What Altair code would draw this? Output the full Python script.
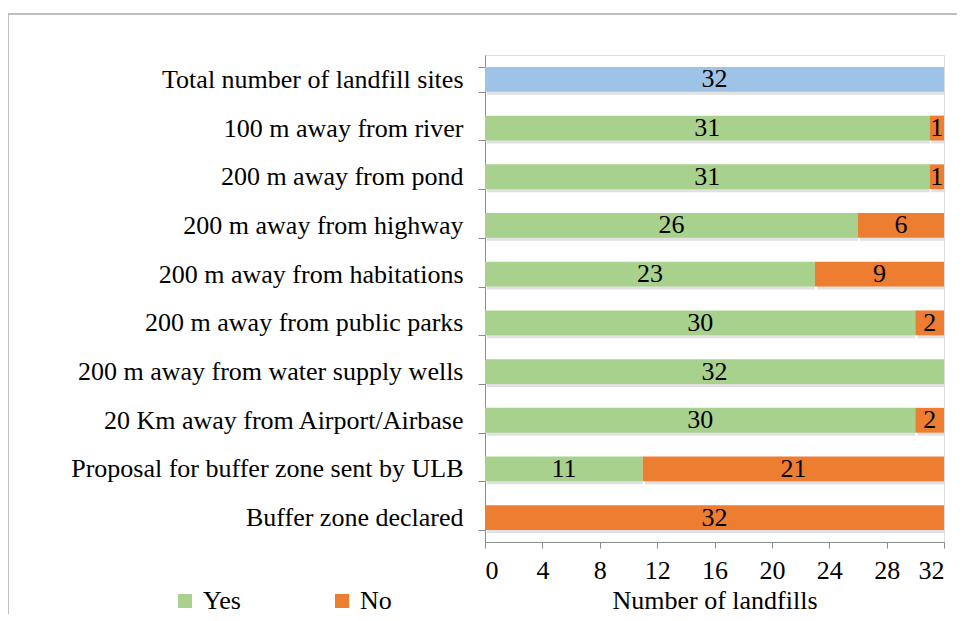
import altair as alt
import pandas as pd

categories = [
    "Total number of landfill sites",
    "100 m away from river",
    "200 m away from pond",
    "200 m away from highway",
    "200 m away from habitations",
    "200 m away from public parks",
    "200 m away from water supply wells",
    "20 Km away from Airport/Airbase",
    "Proposal for buffer zone sent by ULB\u00a0",
    "Buffer zone declared",
]
total_vals = [32, 0, 0, 0, 0, 0, 0, 0, 0, 0]
yes_vals = [0, 31, 31, 26, 23, 30, 32, 30, 11, 0]
no_vals = [0, 1, 1, 6, 9, 2, 0, 2, 21, 32]
series_names = ["Total", "Yes", "No"]
series_colors = ["#9DC3E6", "#A9D18E", "#ED7D31"]
x_ticks = [0, 4, 8, 12, 16, 20, 24, 28, 32]

rows = []
for i, c in enumerate(categories):
    start = 0
    for name, vals in zip(series_names, [total_vals, yes_vals, no_vals]):
        v = vals[i]
        if v > 0:
            rows.append({"cat": c, "series": name, "value": v,
                         "x0": start, "x1": start + v, "mid": start + v / 2})
            start += v
df = pd.DataFrame(rows)

FONT = "Liberation Serif"
FS = 26

y_enc = alt.Y("cat:N", sort=categories, title=None,
              scale=alt.Scale(paddingInner=0.49, paddingOuter=0.245),
              axis=alt.Axis(tickBand="extent", labelPadding=15, tickSize=7,
                            tickColor="#8c8c8c", domainColor="#8c8c8c",
                            labelLimit=600))
x_scale = alt.Scale(domain=[0, 32], nice=False)
x_axis = alt.Axis(values=x_ticks, grid=False, tickSize=6, tickColor="#8c8c8c",
                  domainColor="#8c8c8c", labelPadding=9, title="Number of landfills",
                  titlePadding=4)

base = alt.Chart(df)

shadow = base.mark_bar(color="#777777", opacity=0.22, xOffset=2, yOffset=3).encode(
    y=y_enc, x=alt.X("x0:Q", scale=x_scale, axis=x_axis), x2="x1:Q")

bars = base.mark_bar().encode(
    y=y_enc,
    x=alt.X("x0:Q", scale=x_scale, axis=x_axis),
    x2="x1:Q",
    color=alt.Color("series:N",
                    scale=alt.Scale(domain=series_names, range=series_colors),
                    legend=alt.Legend(values=["Yes", "No"], title=None, orient="none",
                                      direction="horizontal", legendX=-313, legendY=533,
                                      symbolType="square", symbolSize=196,
                                      symbolStrokeWidth=0,
                                      labelOffset=5, columnPadding=88)),
)

labels = base.mark_text(fontSize=FS, color="black").encode(
    y=alt.Y("cat:N", sort=categories),
    x=alt.X("mid:Q", scale=x_scale),
    text="value:Q",
)

border_top = alt.Chart(df).mark_rule(color="#bfbfbf", strokeWidth=1).encode(
    x=alt.value(-477), x2=alt.value(700), y=alt.value(-41))
border_left = alt.Chart(df).mark_rule(color="#bfbfbf", strokeWidth=1).encode(
    x=alt.value(-477), y=alt.value(-41), y2=alt.value(700))

chart = alt.layer(border_top, border_left, shadow, bars, labels).properties(
    width=459, height=487,
    padding={"left": 477, "top": 47, "right": 13, "bottom": 72},
    autosize=alt.AutoSizeParams(type="none"),
).configure_view(strokeWidth=0).configure(
    background="white", font=FONT
).configure_axis(
    labelFont=FONT, labelFontSize=FS, labelColor="black",
    titleFont=FONT, titleFontSize=FS, titleFontWeight="normal", titleColor="black"
).configure_legend(
    labelFont=FONT, labelFontSize=FS, labelColor="black"
).configure_text(font=FONT)

chart.save("out.html", embed_options={"renderer": "svg", "actions": False})
